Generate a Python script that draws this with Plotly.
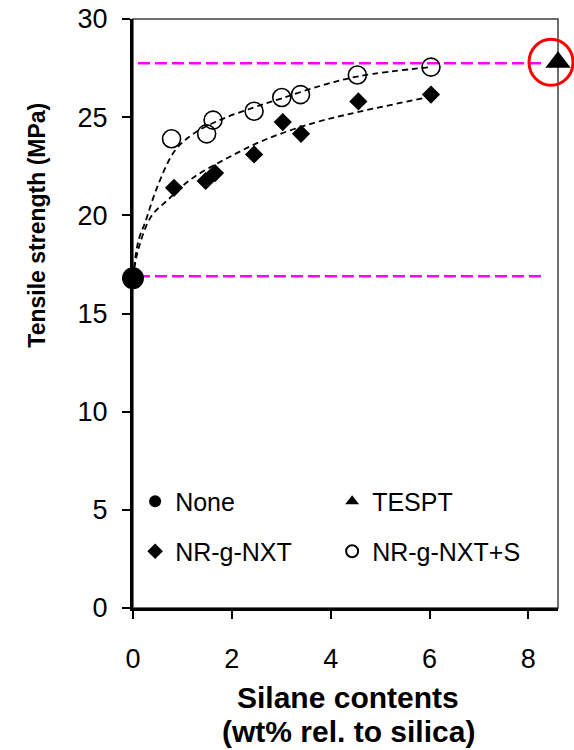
import plotly.graph_objects as go

# ---------------- data ----------------
none_x = [0.0]
none_y = [16.8]

tespt_x = [8.6]
tespt_y = [27.8]

nxt_x = [0.83, 1.47, 1.66, 2.45, 3.03, 3.40, 4.56, 6.03]
nxt_y = [21.4, 21.75, 22.15, 23.1, 24.75, 24.15, 25.8, 26.15]

nxts_x = [0.78, 1.49, 1.62, 2.45, 3.01, 3.39, 4.54, 6.03]
nxts_y = [23.9, 24.15, 24.85, 25.3, 26.0, 26.15, 27.15, 27.55]

# dashed trend curves
fit_upper_x = [0.0, 0.05, 0.12, 0.24, 0.5, 0.85, 1.25, 1.8, 2.45, 3.0, 3.8, 4.6, 6.03]
fit_upper_y = [16.8, 17.9, 18.8, 19.6, 21.5, 23.3, 24.2, 24.9, 25.5, 25.95, 26.6, 27.1, 27.55]
fit_lower_x = [0.0, 0.1, 0.37, 0.71, 1.18, 1.86, 2.67, 3.65, 4.53, 5.88, 6.03]
fit_lower_y = [16.8, 18.2, 19.95, 20.8, 21.85, 22.85, 23.85, 24.7, 25.25, 25.97, 26.05]

# magenta reference levels
ref_x = [0.1, 8.28]
ref_levels = [27.75, 16.9]

x_ticks = [0, 2, 4, 6, 8]
y_ticks = [0, 5, 10, 15, 20, 25, 30]
x_range = [0, 8.6]
y_range = [0, 30]

FONT = "Liberation Sans, Arial, sans-serif"

fig = go.Figure()

for lvl in ref_levels:
    fig.add_trace(go.Scatter(
        x=ref_x, y=[lvl, lvl], mode="lines",
        line=dict(color="#FF00FF", width=2.6, dash="12px,5px"),
        showlegend=False, hoverinfo="skip"))

for fx, fy in [(fit_upper_x, fit_upper_y), (fit_lower_x, fit_lower_y)]:
    fig.add_trace(go.Scatter(
        x=fx, y=fy, mode="lines",
        line=dict(color="black", width=1.8, dash="6px,4px", shape="spline", smoothing=1.0),
        showlegend=False, hoverinfo="skip"))

fig.add_trace(go.Scatter(
    x=none_x, y=none_y, mode="markers", name="None", legend="legend",
    marker=dict(symbol="circle", size=22, color="black"), cliponaxis=False))
fig.add_trace(go.Scatter(
    x=tespt_x, y=tespt_y, mode="markers", name="TESPT", legend="legend",
    marker=dict(symbol="triangle-up", size=22, color="black"), cliponaxis=False))
fig.add_trace(go.Scatter(
    x=nxt_x, y=nxt_y, mode="markers", name="NR-g-NXT", legend="legend2",
    marker=dict(symbol="diamond", size=14, color="black"), cliponaxis=False))
fig.add_trace(go.Scatter(
    x=nxts_x, y=nxts_y, mode="markers", name="NR-g-NXT+S", legend="legend2",
    marker=dict(symbol="circle-open", size=18, color="black", line=dict(width=1.6, color="black")),
    cliponaxis=False))

# red highlight circle around the TESPT point
ax_x = (tespt_x[0] - x_range[0]) / (x_range[1] - x_range[0])
ax_y = (tespt_y[0] - y_range[0]) / (y_range[1] - y_range[0])
fig.add_shape(type="circle", xref="paper", yref="paper",
              xsizemode="pixel", ysizemode="pixel",
              xanchor=ax_x, yanchor=ax_y,
              x0=-29, x1=15, y0=-23, y1=23,
              line=dict(color="red", width=3))

# thin top/right frame
fig.add_shape(type="rect", xref="paper", yref="paper", x0=0, x1=1, y0=0, y1=1,
              line=dict(color="#404040", width=1.5), layer="below")

legend_common = dict(orientation="h", xanchor="left", yanchor="middle",
                     entrywidth=152, entrywidthmode="pixels",
                     font=dict(family=FONT, size=25, color="black"),
                     bgcolor="rgba(0,0,0,0)", borderwidth=0,
                     itemsizing="constant", traceorder="normal")

fig.update_layout(
    width=574, height=750,
    margin=dict(l=133, r=16, t=19, b=142, autoexpand=False),
    paper_bgcolor="white", plot_bgcolor="white",
    font=dict(family=FONT, color="black"),
    legend=dict(legend_common, x=0.005, y=0.181),
    legend2=dict(legend_common, x=0.005, y=0.096),
    xaxis=dict(range=x_range, tickvals=x_ticks, showgrid=False, zeroline=False,
               showline=True, linecolor="black", linewidth=3, automargin=False,
               ticks="outside", ticklen=8, tickwidth=2, tickcolor="black",
               tickfont=dict(family=FONT, size=27, color="black"),
               ticklabelstandoff=17),
    yaxis=dict(range=y_range, tickvals=y_ticks, showgrid=False, zeroline=False,
               showline=True, linecolor="black", linewidth=3, automargin=False,
               ticks="outside", ticklen=8, tickwidth=2, tickcolor="black",
               tickfont=dict(family=FONT, size=27, color="black"),
               ticklabelstandoff=9),
    annotations=[
        dict(text="<b>Tensile strength (MPa)</b>", textangle=-90,
             xref="paper", yref="paper", x=-0.2247, y=0.650,
             xanchor="center", yanchor="middle", showarrow=False,
             font=dict(family=FONT, size=23, color="black")),
        dict(text="<b>Silane contents</b>",
             xref="paper", yref="paper", x=0.507, y=(608 - 697) / 589,
             xanchor="center", yanchor="middle", showarrow=False,
             font=dict(family=FONT, size=30, color="black")),
        dict(text="<b>(wt% rel. to silica)</b>",
             xref="paper", yref="paper", x=0.507, y=(608 - 731) / 589,
             xanchor="center", yanchor="middle", showarrow=False,
             font=dict(family=FONT, size=30, color="black")),
    ],
)

fig.write_html("out.html")
